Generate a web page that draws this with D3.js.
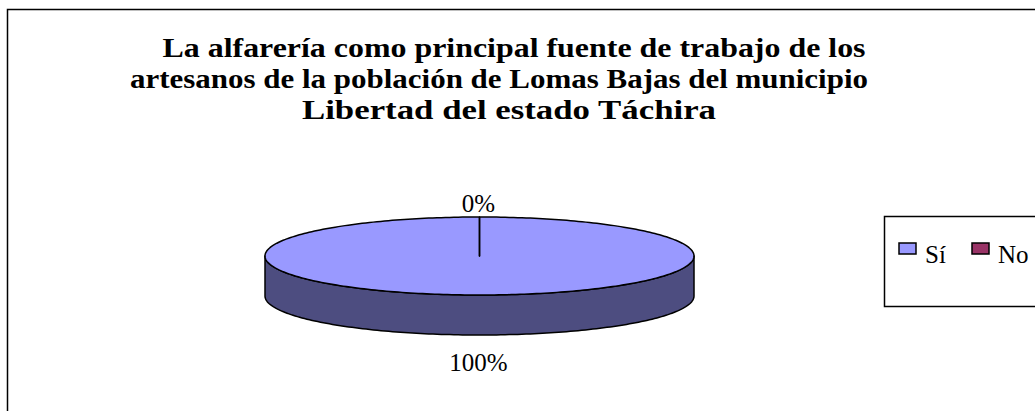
<!DOCTYPE html>
<html>
<head>
<meta charset="utf-8">
<script src="https://cdn.jsdelivr.net/npm/d3@7"></script>
<style>
  body { margin: 0; background: #fff; }
  text { font-family: "Liberation Serif", "Times New Roman", serif; }
</style>
</head>
<body>
<div id="chart"></div>
<script>
const categories = ["Sí", "No"];
const values = [100, 0];
const colors = ["#9999FF", "#993366"];
const titleLines = [
    "La alfarería como principal fuente de trabajo de los",
    "artesanos de la población de Lomas Bajas del municipio",
    "Libertad del estado Táchira"
];

const width = 1035, height = 411;

const svg = d3.select("#chart").append("svg")
    .attr("width", width)
    .attr("height", height);

// marco exterior
svg.append("rect")
    .attr("x", 7.5).attr("y", 9.5)
    .attr("width", 1100).attr("height", 500)
    .attr("fill", "#fff")
    .attr("stroke", "#000")
    .attr("stroke-width", 1.5);

// titulo (letra algo estrecha y alta como en el original)
const titleX = [514, 499, 509];
const titleW = [703, 738, 414];
svg.append("g").selectAll("text")
    .data(titleLines)
    .enter()
    .append("text")
    .attr("x", (d, i) => titleX[i])
    .attr("y", (d, i) => 57 + i * 31)
    .attr("text-anchor", "middle")
    .attr("textLength", (d, i) => titleW[i])
    .attr("lengthAdjust", "spacingAndGlyphs")
    .style("font-size", "27px")
    .style("font-weight", "bold")
    .text(d => d);

// pastel 3D
const cx = 479.5, cy = 256, rx = 214.5, ry = 39, depth = 40;
const pt = a => [cx + rx * Math.sin(a), cy - ry * Math.cos(a)];

const arcs = d3.pie().sort(null).value(d => d)(values);

function arcPoints(a0, a1, dy) {
    const n = Math.max(2, Math.ceil(Math.abs(a1 - a0) / 0.02));
    return d3.range(n + 1).map(i => {
        const p = pt(a0 + (a1 - a0) * i / n);
        return [p[0], p[1] + dy];
    });
}

const line = d3.line();

// lados visibles (mitad frontal)
arcs.forEach((d, i) => {
    const s = Math.max(d.startAngle, Math.PI / 2);
    const e = Math.min(d.endAngle, Math.PI * 3 / 2);
    if (e <= s) return;
    const top = arcPoints(s, e, 0);
    const bottom = arcPoints(e, s, depth);
    const c = d3.rgb(colors[i]);
    svg.append("path")
        .attr("d", line(top.concat(bottom)) + "Z")
        .attr("fill", d3.rgb(c.r * 0.5, c.g * 0.5, c.b * 0.5))
        .attr("stroke", "#000")
        .attr("stroke-width", 1.5)
        .attr("stroke-linejoin", "round");
});

// cara superior
arcs.forEach((d, i) => {
    const pts = [[cx, cy]].concat(arcPoints(d.startAngle, d.endAngle, 0));
    svg.append("path")
        .attr("d", line(pts) + "Z")
        .attr("fill", colors[i])
        .attr("stroke", "#000")
        .attr("stroke-width", 1.5)
        .attr("stroke-linejoin", "round");
});

// etiquetas de porcentaje
const total = d3.sum(values);
arcs.forEach(d => {
    const mid = (d.startAngle + d.endAngle) / 2;
    const p = pt(mid);
    const upper = Math.cos(mid) > 0;
    svg.append("text")
        .attr("x", p[0] - 1)
        .attr("y", upper ? p[1] - 5 : p[1] + depth + 36)
        .attr("text-anchor", "middle")
        .style("font-size", "25px")
        .text(d3.format(".0%")(d.data / total));
});

// leyenda
svg.append("rect")
    .attr("x", 884.5).attr("y", 216.5)
    .attr("width", 200).attr("height", 90)
    .attr("fill", "#fff")
    .attr("stroke", "#000")
    .attr("stroke-width", 1.5);

const legendX = [899, 972];
const legend = svg.append("g").selectAll("g")
    .data(categories)
    .enter()
    .append("g")
    .attr("transform", (d, i) => `translate(${legendX[i]},243)`);

legend.append("rect")
    .attr("width", 17)
    .attr("height", 11)
    .attr("fill", (d, i) => colors[i])
    .attr("stroke", "#000")
    .attr("stroke-width", 1.5);

legend.append("text")
    .attr("x", 26)
    .attr("y", 20)
    .style("font-size", "25px")
    .text(d => d);
</script>
</body>
</html>
